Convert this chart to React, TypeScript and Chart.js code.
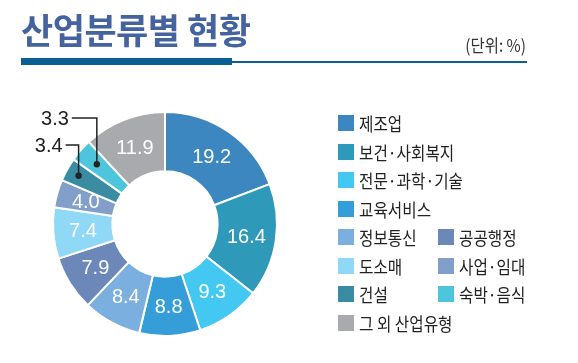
import React, { useEffect, useRef } from "react";
import { Chart, registerables } from "chart.js";

Chart.register(...registerables);

const title = "산업분류별 현황";
const unitLabel = "(단위: %)";
const categories = [
  "제조업",
  "보건·사회복지",
  "전문·과학·기술",
  "교육서비스",
  "정보통신",
  "공공행정",
  "도소매",
  "사업·임대",
  "건설",
  "숙박·음식",
  "그 외 산업유형",
];
const values = [19.2, 16.4, 9.3, 8.8, 8.4, 7.9, 7.4, 4.0, 3.4, 3.3, 11.9];
const colors = [
  "#3d87c0",
  "#2f99b9",
  "#43c8f2",
  "#359dd8",
  "#7aafe0",
  "#6c88b8",
  "#8fd8f6",
  "#819fc9",
  "#3a8ca3",
  "#4dc6dd",
  "#a9aaae",
];
const valueLabels = values.map((v) => v.toFixed(1));
// legend layout: rows of category indices
const legendRows = [[0], [1], [2], [3], [4, 5], [6, 7], [8, 9], [10]];
// slices labelled outside with leader lines: index -> styling
const callouts: Record<number, { ringFrac: number; labelY: number; armLen: number }> = {
  8: { ringFrac: 0.78, labelY: -79, armLen: 13 },
  9: { ringFrac: 0.64, labelY: -106, armLen: 25 },
};

const labelPlugin = {
  id: "sliceLabels",
  afterDatasetsDraw(chart: any) {
    const ctx = chart.ctx;
    const meta = chart.getDatasetMeta(0);
    ctx.save();
    meta.data.forEach((arc: any, i: number) => {
      const { x, y, startAngle, endAngle, innerRadius, outerRadius } = arc.getProps(
        ["x", "y", "startAngle", "endAngle", "innerRadius", "outerRadius"],
        true
      );
      const mid = (startAngle + endAngle) / 2;
      const c = callouts[i];
      if (c) {
        const r = innerRadius + (outerRadius - innerRadius) * c.ringFrac;
        const dx = x + Math.cos(mid) * r;
        const dy = y + Math.sin(mid) * r;
        const ly = y + c.labelY;
        const lx = dx - c.armLen;
        ctx.strokeStyle = "#222";
        ctx.lineWidth = 1.5;
        ctx.beginPath();
        ctx.moveTo(dx, dy);
        ctx.lineTo(dx, ly);
        ctx.lineTo(lx, ly);
        ctx.stroke();
        ctx.fillStyle = "#222";
        ctx.beginPath();
        ctx.arc(dx, dy, 3.2, 0, Math.PI * 2);
        ctx.fill();
        ctx.font = '20px "Liberation Sans", Arial, sans-serif';
        ctx.textAlign = "right";
        ctx.textBaseline = "middle";
        ctx.fillText(valueLabels[i], lx - 3, ly + 1.5);
      } else {
        const r = (innerRadius + outerRadius) / 2;
        ctx.font = '20px "Liberation Sans", Arial, sans-serif';
        ctx.textAlign = "center";
        ctx.textBaseline = "middle";
        ctx.fillStyle = "#ffffff";
        ctx.fillText(valueLabels[i], x + Math.cos(mid) * r, y + Math.sin(mid) * r + 1);
      }
    });
    ctx.restore();
  },
};

export default function App() {
  const ref = useRef<HTMLCanvasElement | null>(null);
  useEffect(() => {
    if (!ref.current) return;
    const chart = new Chart(ref.current, {
      type: "doughnut",
      data: {
        labels: categories,
        datasets: [
          {
            data: values,
            backgroundColor: colors,
            borderColor: "#ffffff",
            borderWidth: 2,
            hoverOffset: 0,
            offset: 0,
          },
        ],
      },
      options: {
        responsive: false,
        maintainAspectRatio: false,
        animation: false,
        devicePixelRatio: 1,
        events: [],
        cutout: "47%",
        layout: { padding: { left: 52, top: 111, right: 300, bottom: 26 } },
        plugins: { legend: { display: false }, tooltip: { enabled: false } },
      },
      plugins: [labelPlugin],
    });
    return () => chart.destroy();
  }, []);

  const cjk = '"Noto Sans CJK KR", "Noto Sans", sans-serif';
  return (
    <div style={{ position: "absolute", left: 0, top: 0, width: 578, height: 363, background: "#fff", overflow: "hidden" }}>
      <canvas ref={ref} width={578} height={363} style={{ position: "absolute", left: 0, top: 0, width: 578, height: 363 }} />
      <div
        style={{
          position: "absolute",
          left: 21,
          top: 11,
          fontFamily: cjk,
          fontWeight: 700,
          fontSize: 35,
          lineHeight: "35px",
          color: "#45649f",
          whiteSpace: "nowrap",
          letterSpacing: -0.5,
        }}
      >
        {title}
      </div>
      <div
        style={{
          position: "absolute",
          left: 380,
          width: 146,
          top: 36,
          textAlign: "right",
          fontFamily: cjk,
          fontSize: 17.5,
          lineHeight: "18px",
          color: "#333",
          whiteSpace: "nowrap",
          transform: "scaleX(0.88)",
          transformOrigin: "right center",
        }}
      >
        {unitLabel}
      </div>
      <div style={{ position: "absolute", left: 21, top: 61, width: 506, height: 2, background: "#0a5f96" }} />
      <div style={{ position: "absolute", left: 21, top: 58, width: 211, height: 7, background: "#0a5f96" }} />
      {legendRows.map((row, ri) => (
        <React.Fragment key={ri}>
          {row.map((ci, k) => (
            <div
              key={ci}
              style={{
                position: "absolute",
                left: k === 0 ? 338 : 438,
                top: 115 + ri * 28.57,
                height: 16,
                display: "flex",
                alignItems: "center",
                whiteSpace: "nowrap",
              }}
            >
              <div style={{ width: 16, height: 16, background: colors[ci], flex: "none" }} />
              <div
                style={{
                  marginLeft: 5,
                  fontFamily: cjk,
                  fontSize: 18,
                  lineHeight: "16px",
                  color: "#222",
                  transform: "scaleX(0.87)",
                  transformOrigin: "left center",
                }}
              >
                {categories[ci]}
              </div>
            </div>
          ))}
        </React.Fragment>
      ))}
    </div>
  );
}
